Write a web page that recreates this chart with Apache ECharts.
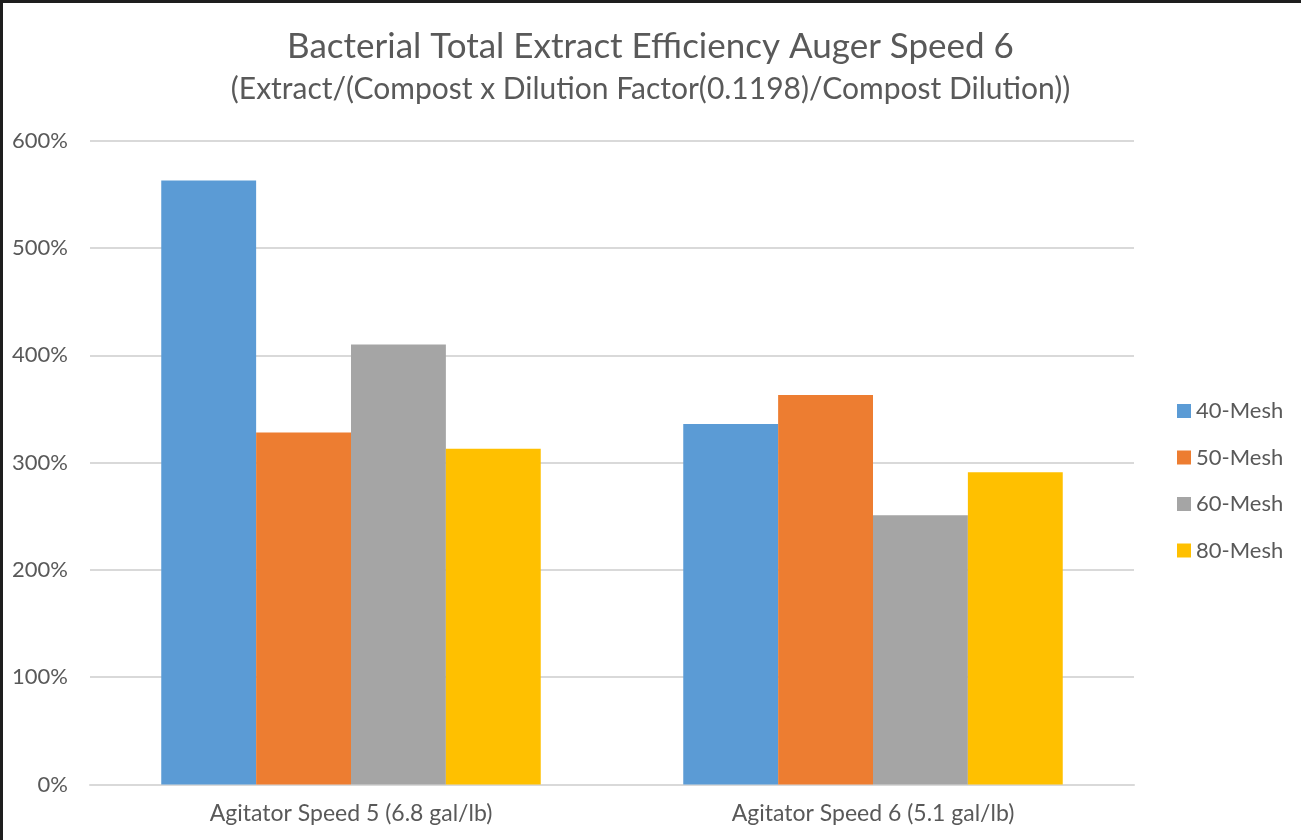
<!DOCTYPE html>
<html>
<head>
<meta charset="utf-8">
<script src="https://cdn.jsdelivr.net/npm/echarts@6/dist/echarts.min.js"></script>
<style>
html,body{margin:0;padding:0;background:#fff;}
#wrap{position:relative;width:1301px;height:840px;}
#main{position:absolute;left:0;top:0;width:1301px;height:840px;}
#frame{position:absolute;left:0;top:0;width:1301px;height:840px;box-sizing:border-box;border-top:3px solid #1e1e1e;border-left:3px solid #1e1e1e;pointer-events:none;}
</style>
</head>
<body>
<div id="wrap"><div id="main"></div><div id="frame"></div></div>
<script>
const titleText = 'Bacterial Total Extract Efficiency Auger Speed 6';
const subtitleText = '(Extract/(Compost x Dilution Factor(0.1198)/Compost Dilution))';
const categories = ['Agitator Speed 5 (6.8 gal/lb)', 'Agitator Speed 6 (5.1 gal/lb)'];
const seriesNames = ['40-Mesh', '50-Mesh', '60-Mesh', '80-Mesh'];
const mesh40 = [563, 336];
const mesh50 = [328, 363];
const mesh60 = [410, 251];
const mesh80 = [313, 291];
const colors = ['#5B9BD5', '#ED7D31', '#A5A5A5', '#FFC000'];

const values = [mesh40, mesh50, mesh60, mesh80];
const font = 'Lato, "Noto Sans", sans-serif';
const chart = echarts.init(document.getElementById('main'));
chart.setOption({
  animation: false,
  backgroundColor: '#fff',
  color: colors,
  title: [
    {text: titleText, left: 'center', top: 24,
     textStyle: {fontFamily: font, fontSize: 35, fontWeight: 'normal', color: '#595959'}},
    {text: subtitleText, left: 'center', top: 69,
     textStyle: {fontFamily: font, fontSize: 30, fontWeight: 'normal', color: '#595959'}}
  ],
  legend: {
    orient: 'vertical', left: 1172, top: 395,
    itemWidth: 14, itemHeight: 14, itemGap: 24.5,
    icon: 'rect',
    textStyle: {fontFamily: font, fontSize: 22, color: '#595959'},
    data: seriesNames
  },
  grid: {left: 90, right: 167, top: 140.7, bottom: 55.5, containLabel: false},
  xAxis: {
    type: 'category', data: categories,
    axisLine: {lineStyle: {color: '#d9d9d9', width: 2}},
    axisTick: {show: false},
    axisLabel: {fontFamily: font, fontSize: 23, color: '#595959', margin: 18}
  },
  yAxis: {
    type: 'value', min: 0, max: 600, interval: 100,
    axisLine: {show: false}, axisTick: {show: false},
    splitLine: {lineStyle: {color: '#d9d9d9', width: 2}},
    axisLabel: {fontFamily: font, fontSize: 22, color: '#595959', margin: 22, formatter: '{value}%'}
  },
  series: seriesNames.map((n, i) => ({
    name: n, type: 'bar', data: values[i],
    barGap: '0%', barCategoryGap: '27.3%'
  }))
});
</script>
</body>
</html>
